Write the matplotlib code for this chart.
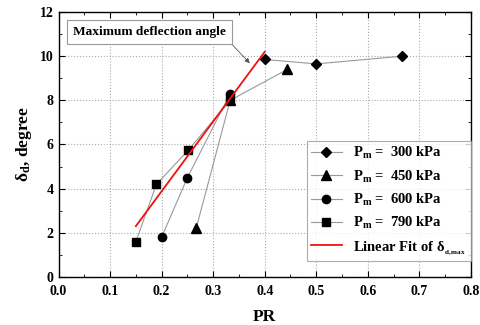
import numpy
import matplotlib
matplotlib.use("Agg")
from matplotlib import pyplot
from matplotlib.ticker import MultipleLocator

pyplot.rcParams["font.family"] = "Liberation Serif"
pyplot.rcParams["font.weight"] = "bold"
pyplot.rcParams["mathtext.fontset"] = "custom"
pyplot.rcParams["mathtext.rm"] = "Liberation Serif:bold"
pyplot.rcParams["mathtext.it"] = "Liberation Serif:italic:bold"
pyplot.rcParams["mathtext.bf"] = "Liberation Serif:bold"

# data
pr_300 = [0.400, 0.500, 0.667]
delta_300 = [9.85, 9.65, 10.0]
pr_450 = [0.267, 0.333, 0.444]
delta_450 = [2.2, 8.0, 9.4]
pr_600 = [0.200, 0.250, 0.333]
delta_600 = [1.8, 4.5, 8.3]
pr_790 = [0.150, 0.190, 0.252, 0.333]
delta_790 = [1.6, 4.2, 5.75, 8.0]
fit_pr = [0.15, 0.40]
fit_delta = [2.3, 10.2]

series = [
    (pr_300, delta_300, "D", 5.5, "P$_\\mathrm{m}$ =  300 kPa"),
    (pr_450, delta_450, "^", 6.5, "P$_\\mathrm{m}$ =  450 kPa"),
    (pr_600, delta_600, "o", 6.0, "P$_\\mathrm{m}$ =  600 kPa"),
    (pr_790, delta_790, "s", 5.5, "P$_\\mathrm{m}$ =  790 kPa"),
]

fig = pyplot.figure(figsize=(4.8, 3.25), dpi=100)
ax = fig.add_axes([0.122, 0.148, 0.859, 0.815])

for x, y, m, ms, label in series:
    ax.plot(x, y, color="#999999", lw=0.8, marker=m, ms=ms, mfc="k", mec="k",
        label=label)
ax.plot(fit_pr, fit_delta, color="#ee1111", lw=1.3,
    label="Linear Fit of \u03b4$_{{}_\\mathrm{d,max}}$")

ax.set_xlim(0, 0.8)
ax.set_ylim(0, 12)
ax.xaxis.set_major_locator(MultipleLocator(0.1))
ax.xaxis.set_minor_locator(MultipleLocator(0.05))
ax.yaxis.set_major_locator(MultipleLocator(2))
ax.yaxis.set_minor_locator(MultipleLocator(1))
ax.set_xticks(numpy.arange(0, 0.81, 0.1))
ax.set_xticklabels(["{0:.1f}".format(v) for v in numpy.arange(0, 0.81, 0.1)])
ax.tick_params(which="both", direction="in", top=True, right=True, labelsize=10)
ax.tick_params(axis="x", which="major", pad=6)
ax.tick_params(which="major", length=4)
ax.tick_params(which="minor", length=2)
ax.grid(True, which="major", ls=":", color="#aaaaaa", lw=0.8)
for s in ax.spines.values():
    s.set_linewidth(1.0)

ax.set_xlabel("PR", fontsize=12.5, fontweight="bold", labelpad=8)
ax.set_ylabel("\u03b4$_\\mathrm{d}$, degree", fontsize=12.5, fontweight="bold")

ax.annotate("Maximum deflection angle", xy=(0.371, 9.68), xytext=(0.177, 11.08),
    ha="center", va="center", fontsize=9.6, fontweight="bold",
    bbox=dict(boxstyle="square,pad=0.45", fc="white", ec="#999999", lw=0.8),
    arrowprops=dict(arrowstyle="-|>", color="#555555", lw=0.6,
        shrinkA=0, shrinkB=0, mutation_scale=7, relpos=(1.0, 0.0)))

leg = ax.legend(loc="lower right", bbox_to_anchor=(1.0, 0.06), fontsize=10.5,
    frameon=True, fancybox=False, edgecolor="#999999", handlelength=2.1,
    borderaxespad=0.0, labelspacing=0.5, borderpad=0.3)
leg.get_frame().set_linewidth(0.8)

fig.savefig("out.png", dpi=100)
